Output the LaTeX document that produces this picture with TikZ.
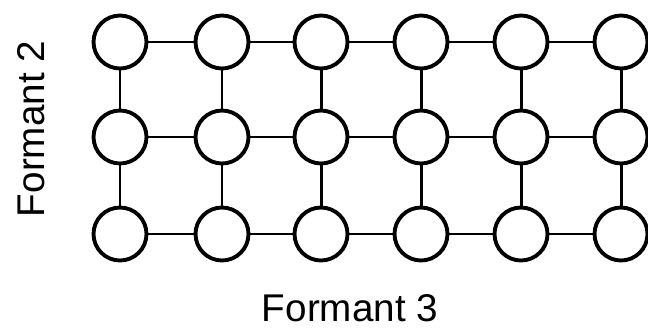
\documentclass[tikz,border=0pt]{standalone}
\usepackage{fontspec}
\setmainfont{Liberation Sans}
\begin{document}
\begin{tikzpicture}[x=0.02cm,y=-0.02cm,
  unit/.style={circle,draw,line width=2.2pt,minimum size=1.06cm,inner sep=0pt,fill=white},
  link/.style={line width=1.7pt},
  axislabel/.style={font=\fontsize{22}{26}\selectfont}]
\useasboundingbox (0,0) rectangle (648,328);
\foreach \c/\x in {1/120,2/222,3/321,4/421,5/521,6/621}
  \foreach \r/\y in {1/42,2/137,3/234}
    \node[unit] (n\r\c) at (\x,\y) {};
\foreach \r in {1,2,3}
  \foreach \c [count=\d from 2] in {1,...,5}
    \draw[link] (n\r\c) -- (n\r\d);
\foreach \c in {1,...,6}{
  \draw[link] (n1\c) -- (n2\c);
  \draw[link] (n2\c) -- (n3\c);
}
\node[axislabel,rotate=90] (f2) at (31,129) {Formant 2};
\node[axislabel] (f3) at (350,308) {Formant 3};
\end{tikzpicture}
\end{document}
